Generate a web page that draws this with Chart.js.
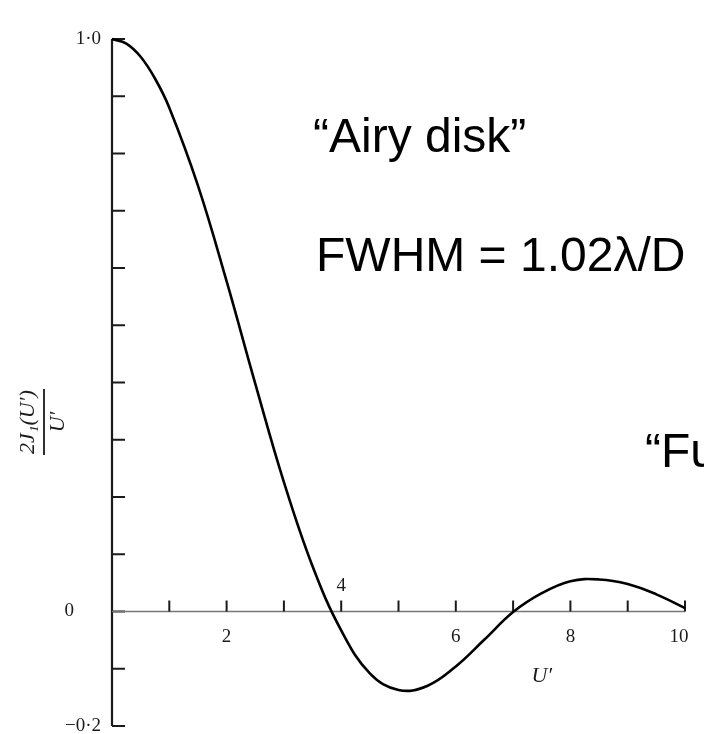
<!DOCTYPE html>
<html>
<head>
<meta charset="utf-8">
<script src="https://cdn.jsdelivr.net/npm/chart.js@4"></script>
<style>
  html, body { margin: 0; padding: 0; background: #fff; }
  canvas { display: block; }
</style>
</head>
<body>
<canvas id="airyChart" width="704" height="734"></canvas>
<script>
// Podatki, odčitani s slike: U' in 2J1(U')/U'
const uValues = [0, 0.25, 0.5, 0.75, 1, 1.5, 2, 2.5, 3, 3.5, 4, 4.5, 5, 5.5, 6, 6.5, 7, 7.5, 8, 8.5, 9, 9.5, 10];
const amplitude = [1.0, 0.992, 0.969, 0.931, 0.880, 0.744, 0.577, 0.398, 0.226, 0.079, -0.033, -0.108, -0.137, -0.130, -0.096, -0.049, -0.001, 0.032, 0.053, 0.056, 0.048, 0.030, 0.006];

// Oznake osi
const xTickValues = [2, 4, 6, 8, 10];
const xTickLabels = ['2', '4', '6', '8', '10'];
const yTickValues = [1.0, 0, -0.2];
const yTickLabels = ['1·0', '0', '−0·2'];

// Besedila na sliki
const annotationTexts = ['\u201CAiry disk\u201D', 'FWHM = 1.02\u03BB/D', '\u201CFull'];

const points = uValues.map((u, i) => ({ x: u, y: amplitude[i] }));

// Vtičnik za risanje osi v slogu skeniranega grafa
const axesPlugin = {
    id: 'axesPlugin',
    beforeDatasetsDraw(chart) {
        const ctx = chart.ctx;
        const xs = chart.scales.x;
        const ys = chart.scales.y;
        const x0 = xs.getPixelForValue(0);
        const y0 = ys.getPixelForValue(0);
        ctx.save();

        // os y
        ctx.strokeStyle = '#1a1a1a';
        ctx.lineWidth = 2.2;
        ctx.beginPath();
        ctx.moveTo(x0, ys.getPixelForValue(1.0));
        ctx.lineTo(x0, ys.getPixelForValue(-0.2));
        ctx.stroke();

        // kljukice na osi y (vsakih 0.1)
        ctx.lineWidth = 2;
        for (let k = -2; k <= 10; k++) {
            const py = ys.getPixelForValue(k / 10);
            ctx.beginPath();
            ctx.moveTo(x0, py);
            ctx.lineTo(x0 + 13, py);
            ctx.stroke();
        }

        // os x pri y = 0
        ctx.strokeStyle = '#777';
        ctx.lineWidth = 1.5;
        ctx.beginPath();
        ctx.moveTo(x0, y0);
        ctx.lineTo(xs.getPixelForValue(10), y0);
        ctx.stroke();

        // kljukice na osi x
        ctx.strokeStyle = '#1a1a1a';
        ctx.lineWidth = 2;
        for (let k = 1; k <= 10; k++) {
            const px = xs.getPixelForValue(k);
            ctx.beginPath();
            ctx.moveTo(px, y0);
            ctx.lineTo(px, y0 - 11);
            ctx.stroke();
        }

        // oznake osi y
        ctx.fillStyle = '#1a1a1a';
        ctx.font = '19px "Liberation Serif", serif';
        ctx.textAlign = 'right';
        ctx.textBaseline = 'middle';
        yTickValues.forEach((v, i) => {
            let off = 11;
            if (v === 0) off = 38;
            ctx.fillText(yTickLabels[i], x0 - off, ys.getPixelForValue(v));
        });

        // oznake osi x (4 je nad osjo)
        ctx.textAlign = 'center';
        xTickValues.forEach((v, i) => {
            const px = xs.getPixelForValue(v);
            if (v === 4) {
                ctx.fillText(xTickLabels[i], px, y0 - 25);
            } else {
                ctx.fillText(xTickLabels[i], px - (v === 10 ? 6 : 0), y0 + 26);
            }
        });

        // naslov osi x
        ctx.font = 'italic 22px "Liberation Serif", serif';
        ctx.textBaseline = 'alphabetic';
        ctx.fillText('U\u2032', xs.getPixelForValue(7.5), 682);

        // naslov osi y kot ulomek, zasukan
        ctx.translate(44, 422);
        ctx.rotate(-Math.PI / 2);
        ctx.font = 'italic 22px "Liberation Serif", serif';
        ctx.textAlign = 'center';
        ctx.fillText('2J\u2081(U\u2032)', 0, -10);
        ctx.fillText('U\u2032', 0, 20);
        ctx.lineWidth = 1.8;
        ctx.beginPath();
        ctx.moveTo(-33, 0);
        ctx.lineTo(33, 0);
        ctx.stroke();
        ctx.restore();
    },
    afterDraw(chart) {
        const ctx = chart.ctx;
        ctx.save();
        ctx.fillStyle = '#000';
        ctx.font = '48px "Liberation Sans", Arial, sans-serif';
        ctx.textAlign = 'left';
        ctx.textBaseline = 'alphabetic';
        ctx.fillText(annotationTexts[0], 313, 152);
        ctx.fillText(annotationTexts[1], 316, 271);
        ctx.fillText(annotationTexts[2], 645, 467);
        ctx.restore();
    }
};

const ctxAiry = document.getElementById('airyChart').getContext('2d');
const airyChart = new Chart(ctxAiry, {
    type: 'line',
    data: {
        datasets: [{
            label: "2J1(U')/U'",
            data: points,
            borderColor: '#000',
            borderWidth: 2.6,
            pointRadius: 0,
            fill: false,
            tension: 0.4,
            clip: false
        }]
    },
    options: {
        responsive: false,
        animation: false,
        layout: {
            padding: { left: 112, right: 19, top: 39, bottom: 8 }
        },
        plugins: {
            legend: { display: false },
            tooltip: { enabled: false }
        },
        scales: {
            x: { type: 'linear', min: 0, max: 10, display: false },
            y: { type: 'linear', min: -0.2, max: 1.0, display: false }
        }
    },
    plugins: [axesPlugin]
});
</script>
</body>
</html>
